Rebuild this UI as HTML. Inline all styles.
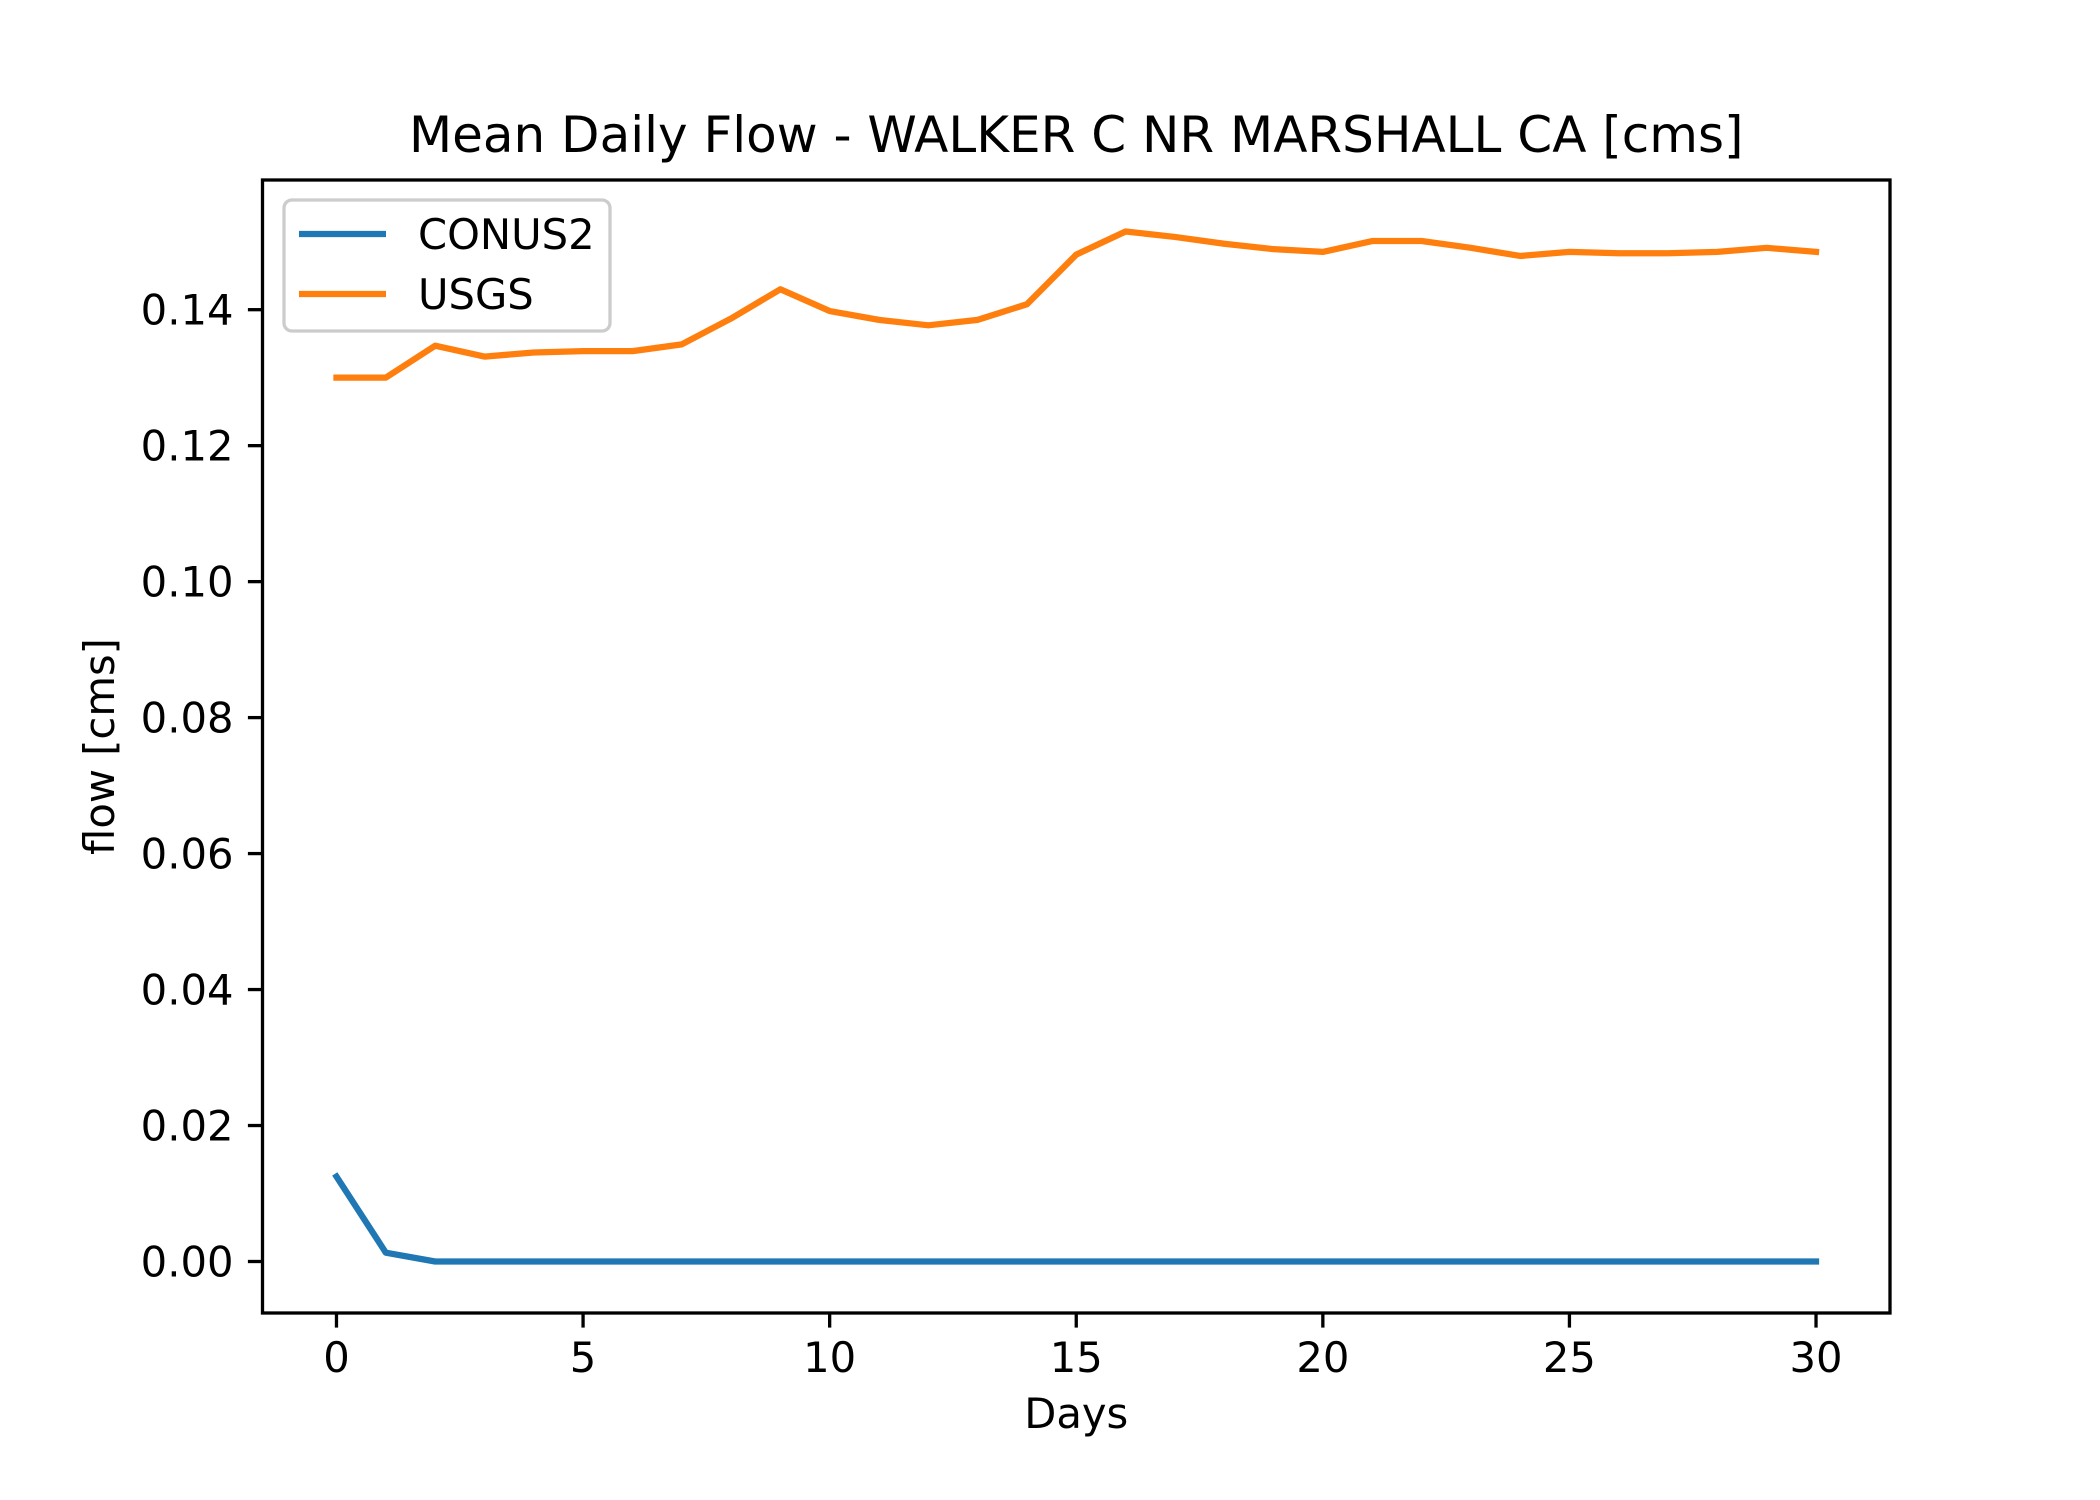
<!DOCTYPE html>
<html><head><meta charset="utf-8"><style>html,body{margin:0;padding:0;background:#fff}svg{display:block}</style></head>
<body>
<svg id="chart" width="2100" height="1500" xmlns="http://www.w3.org/2000/svg" font-family="'DejaVu Sans','Liberation Sans',sans-serif"></svg>
<script>
const days = Array.from({length:31},(_,i)=>i);
const usgs = [0.130,0.130,0.1347,0.1331,0.1337,0.1339,0.1339,0.1349,0.1387,0.1430,0.1398,0.1385,0.1377,0.1385,0.1408,0.1481,0.1515,0.1507,0.1497,0.1489,0.1485,0.1501,0.1501,0.1491,0.1479,0.1485,0.1483,0.1483,0.1485,0.1491,0.1485];
const conus2 = [0.0125,0.0013,0,0,0,0,0,0,0,0,0,0,0,0,0,0,0,0,0,0,0,0,0,0,0,0,0,0,0,0,0];
const xTicks = [0,5,10,15,20,25,30];
const yTicks = [0,0.02,0.04,0.06,0.08,0.10,0.12,0.14];

const L=262.5,R=1890,T=180,B=1313;
const allY=usgs.concat(conus2);
const ymin=Math.min(...allY), ymax=Math.max(...allY), yr=ymax-ymin;
const y0=ymin-0.05*yr, y1=ymax+0.05*yr;
const x0=days[0]-0.05*(days[days.length-1]-days[0]), x1=days[days.length-1]+0.05*(days[days.length-1]-days[0]);
const sx=v=>L+(v-x0)/(x1-x0)*(R-L);
const sy=v=>B-(v-y0)/(y1-y0)*(B-T);
const svg=document.getElementById('chart');
const NS='http://www.w3.org/2000/svg';
function mk(tag,attrs,parent){const e=document.createElementNS(NS,tag);for(const k in attrs)e.setAttribute(k,attrs[k]);(parent||svg).appendChild(e);return e;}

function line(vals,color,name){
  const p=mk('polyline',{points:vals.map((v,i)=>sx(days[i])+','+sy(v)).join(' '),fill:'none',stroke:color,'stroke-width':6.25,'stroke-linejoin':'round','stroke-linecap':'square'});
  
  
}
line(conus2,'#1f77b4','conus2-line');
line(usgs,'#ff7f0e','usgs-line');

const frame=mk('rect',{x:L,y:T,width:R-L,height:B-T,fill:'none',stroke:'#000','stroke-width':3.3});



xTicks.forEach(t=>{
  const x=sx(t);
  const tk=mk('line',{x1:x,x2:x,y1:B,y2:B+14.6,stroke:'#000','stroke-width':3.3});
  
  
  const tx=mk('text',{x:x,y:B+59,'font-size':41.7,'text-anchor':'middle',fill:'#000'});
  tx.textContent=t;
  
  
});
yTicks.forEach(t=>{
  const y=sy(t);
  const tk=mk('line',{x1:L-14.6,x2:L,y1:y,y2:y,stroke:'#000','stroke-width':3.3});
  
  
  const tx=mk('text',{x:L-29,y:y+15,'font-size':41.7,'text-anchor':'end',fill:'#000'});
  tx.textContent=t.toFixed(2);
  
  
});

const title=mk('text',{x:(L+R)/2,y:152,'font-size':50,'text-anchor':'middle',fill:'#000'});
title.textContent='Mean Daily Flow - WALKER C NR MARSHALL CA [cms]';


const xl=mk('text',{x:(L+R)/2,y:1428,'font-size':41.7,'text-anchor':'middle',fill:'#000'});
xl.textContent='Days';


const yl=mk('text',{x:0,y:0,'font-size':41.7,'text-anchor':'middle',fill:'#000',transform:'translate(114,'+((T+B)/2)+') rotate(-90)'});
yl.textContent='flow [cms]';



const lg=mk('g',{});


mk('rect',{x:284,y:200,width:326,height:131,rx:8,fill:'#fff','fill-opacity':0.8,stroke:'#ccc','stroke-width':3.3},lg);
[['CONUS2','#1f77b4',234],['USGS','#ff7f0e',294]].forEach(([lab,c,y])=>{
  const e=mk('line',{x1:299,x2:386,y1:y,y2:y,stroke:c,'stroke-width':6.25},lg);
  
  
  const t=mk('text',{x:418,y:y+15,'font-size':41.7,fill:'#000'},lg);
  t.textContent=lab;
  
  
});
</script>
</body></html>
